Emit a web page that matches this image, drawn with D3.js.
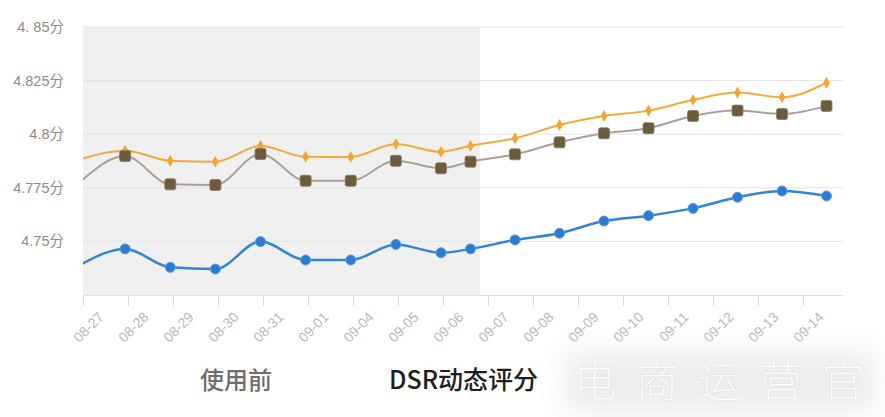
<!DOCTYPE html>
<html><head><meta charset="utf-8">
<script src="https://cdn.jsdelivr.net/npm/d3@7"></script>
<style>html,body{margin:0;padding:0;background:#fff;} svg{display:block}</style>
</head><body><svg id="c" width="885" height="417"></svg>
<script>
// ---- data ----
const categories = ["08-27","08-28","08-29","08-30","08-31","09-01","09-04","09-05","09-06","09-07","09-08","09-09","09-10","09-11","09-12","09-13","09-14"];
const beforeDates = ["08-27","08-28","08-29","08-30","08-31","09-01","09-04","09-05","09-06"];
const afterDates  = ["09-06","09-07","09-08","09-09","09-10","09-11","09-12","09-13","09-14"];
const orangeBefore = [4.7883,4.7923,4.7876,4.7872,4.7945,4.7895,4.7894,4.7954,4.7918];
const orangeAfter  = [4.7946,4.7981,4.8043,4.8085,4.8110,4.8160,4.8194,4.8172,4.8240];
const brownBefore  = [4.7777,4.7898,4.7766,4.7763,4.7908,4.7783,4.7783,4.7876,4.7841];
const brownAfter   = [4.7872,4.7906,4.7962,4.8004,4.8028,4.8085,4.8110,4.8094,4.8132];
const blueBefore   = [4.7390,4.7465,4.7379,4.7371,4.7499,4.7413,4.7413,4.7486,4.7447];
const blueAfter    = [4.7465,4.7507,4.7538,4.7595,4.7620,4.7654,4.7706,4.7735,4.7712];
const yTicks = [4.75,4.775,4.8,4.825,4.85];
const yTickLabels = ["4.75分","4.775分","4.8分","4.825分","4. 85分"];
const captionLeft = "使用前";
const captionRight = "DSR动态评分";
const watermark = "电商运营官";

// ---- layout ----
const L = 83, R = 843, T = 27, B = 295, shadeRight = 480;
const svg = d3.select("#c");
const y = d3.scaleLinear().domain([4.725, 4.85]).range([B, T]);
const xBand = d3.scaleBand().domain(categories).range([L, 848]);
const xBefore = d3.scalePoint().domain(beforeDates).range([80, 441]);
const xAfter = d3.scalePoint().domain(afterDates).range([470.5, 826.5]);

const defs = svg.append("defs");
defs.append("clipPath").attr("id","plot").append("rect")
  .attr("x", L).attr("y", T - 10).attr("width", R - L + 10).attr("height", B - T + 10);
const blur = defs.append("filter").attr("id","haze").attr("x","-30%").attr("y","-60%").attr("width","160%").attr("height","220%");
blur.append("feGaussianBlur").attr("stdDeviation", 14);
const glow = defs.append("filter").attr("id","glow").attr("x","-10%").attr("y","-10%").attr("width","120%").attr("height","120%");
glow.append("feDropShadow").attr("dx",0).attr("dy",0).attr("stdDeviation",1).attr("flood-color","#d6d6d6").attr("flood-opacity",0.8);

// background shade
svg.append("rect").attr("x", L).attr("y", T).attr("width", shadeRight - L).attr("height", B - T).attr("fill", "#f0f0f0");

// grid
svg.append("g").selectAll("line").data(yTicks).join("line")
  .attr("x1", L).attr("x2", R).attr("y1", d => y(d)).attr("y2", d => y(d))
  .attr("stroke", "#e3e3e3").attr("stroke-width", 1);

// y labels
svg.append("g").selectAll("text").data(yTicks).join("text")
  .attr("x", 64).attr("y", d => y(d)).attr("dy", "0.35em")
  .attr("text-anchor", "end")
  .attr("font-family", "'Liberation Sans', Arial, 'Noto Sans CJK SC', sans-serif")
  .attr("font-size", 14.5).attr("fill", "#8a8a8a")
  .text((d, i) => yTickLabels[i]);

// x axis
svg.append("line").attr("x1", L).attr("x2", R).attr("y1", B + 0.5).attr("y2", B + 0.5)
  .attr("stroke", "#dcdce6").attr("stroke-width", 1);
svg.append("g").selectAll("line").data(categories).join("line")
  .attr("x1", d => Math.round(xBand(d)) + 0.5).attr("x2", d => Math.round(xBand(d)) + 0.5)
  .attr("y1", B + 1).attr("y2", B + 11).attr("stroke", "#d8d8de");
svg.append("g").selectAll("text").data(categories).join("text")
  .attr("transform", d => `translate(${xBand(d) + xBand.bandwidth()/2 - 1},${B + 23}) rotate(-45)`)
  .attr("text-anchor", "end")
  .attr("font-family", "'Liberation Sans', Arial, sans-serif")
  .attr("font-size", 14).attr("fill", "#b8b8b8")
  .text(d => d);

// series
const series = [
  {name:"blue", before: blueBefore, after: blueAfter, line:"#3484d5", lw:2.5, mark:"circle", fill:"#2b7bd0"},
  {name:"orange", before: orangeBefore, after: orangeAfter, line:"#f2aa3c", lw:2, mark:"diamond", fill:"#f2a530"},
  {name:"brown", before: brownBefore, after: brownAfter, line:"#aaa195", lw:2, mark:"square", fill:"#6c5b3d"}
];
const line = d3.line().x(d => d.x).y(d => d.y).curve(d3.curveMonotoneX);
const plotG = svg.append("g").attr("clip-path", "url(#plot)");
series.forEach(s => {
  const pts = beforeDates.map((c, i) => ({x: xBefore(c), y: y(s.before[i]), mark: i > 0}))
    .concat(afterDates.map((c, i) => ({x: xAfter(c), y: y(s.after[i]), mark: true})));
  s.pts = pts;
  plotG.append("path").datum(pts).attr("d", line).attr("fill", "none")
    .attr("stroke", s.line).attr("stroke-width", s.lw).attr("stroke-linejoin","round");
});
series.forEach(s => {
  const g = plotG.append("g");
  const m = s.pts.filter(p => p.mark);
  if (s.mark === "circle") {
    g.selectAll("circle").data(m).join("circle")
      .attr("cx", d => d.x).attr("cy", d => d.y).attr("r", 5)
      .attr("fill", s.fill).attr("stroke", "#5a9de0").attr("stroke-width", 1);
  } else if (s.mark === "diamond") {
    g.selectAll("path").data(m).join("path")
      .attr("transform", d => `translate(${d.x},${d.y})`)
      .attr("d", d3.symbol(d3.symbolDiamond, 40)).attr("fill", s.fill);
  } else {
    g.selectAll("rect").data(m).join("rect")
      .attr("x", d => d.x - 5.5).attr("y", d => d.y - 5.5).attr("width", 11).attr("height", 11)
      .attr("rx", 2).attr("fill", s.fill).attr("stroke", "#8a7a5c").attr("stroke-width", 0.8);
  }
});

// captions
svg.append("text").attr("x", 200).attr("y", 389)
  .attr("font-family", "'Noto Sans CJK SC', sans-serif").attr("font-size", 24).attr("font-weight", 500)
  .attr("fill", "#6e6e6e").text(captionLeft);
svg.append("text").attr("x", 389).attr("y", 389)
  .attr("font-family", "'Noto Sans CJK SC', sans-serif").attr("font-size", 25).attr("font-weight", 500)
  .attr("fill", "#1e1e1e").text(captionRight);

// watermark
svg.append("rect").attr("x", 565).attr("y", 352).attr("width", 310).attr("height", 60)
  .attr("fill", "#e9e9e9").attr("filter", "url(#haze)").attr("opacity", 0.85);
svg.append("text").attr("x", 574).attr("y", 397)
  .attr("font-family", "'Noto Sans CJK SC', sans-serif").attr("font-size", 42).attr("font-weight", 100)
  .attr("letter-spacing", 20).attr("fill", "#ffffff").attr("filter", "url(#glow)")
  .text(watermark);
</script></body></html>
